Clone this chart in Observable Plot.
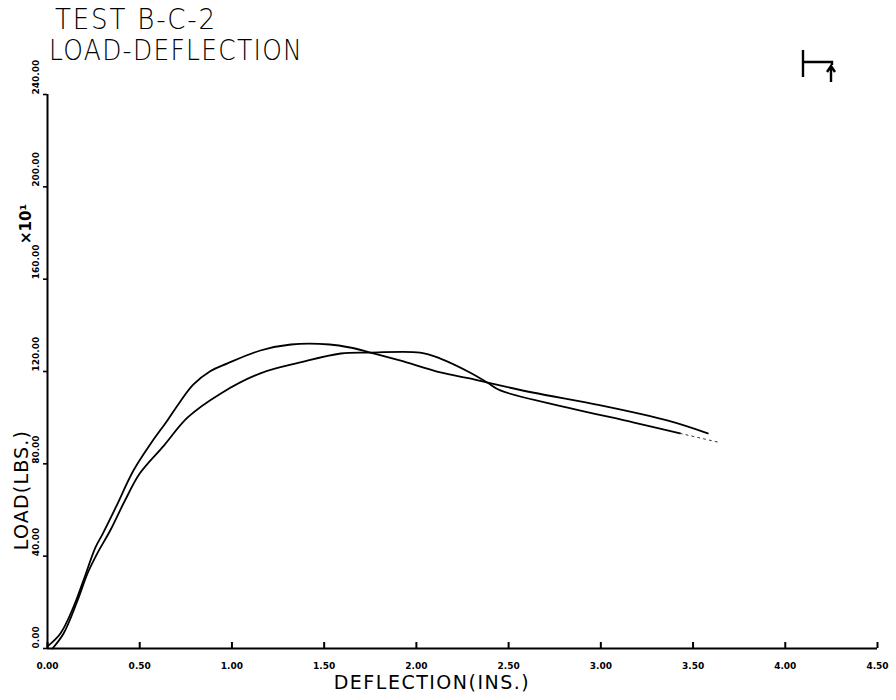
<!DOCTYPE html>
<html><head><meta charset="utf-8">
<script src="https://cdn.jsdelivr.net/npm/d3@7"></script>
<script src="https://cdn.jsdelivr.net/npm/@observablehq/plot@0.6"></script>
<style>
body{margin:0;background:#fff;}
#wrap{position:relative;width:896px;height:700px;overflow:hidden;}
.t{position:absolute;font-family:"DejaVu Sans",sans-serif;color:#000;white-space:nowrap;line-height:1;}
#chart{position:absolute;left:0;top:0;}
</style></head><body>
<div id="wrap">
  <div id="chart"></div>
  <div class="t" id="t1" style="left:55px;top:5px;font-size:29px;font-weight:200;transform:scaleX(0.9);transform-origin:left top;letter-spacing:2px;">TEST B-C-2</div>
  <div class="t" id="t2" style="left:49px;top:36px;font-size:29px;font-weight:200;transform:scaleX(0.86);transform-origin:left top;letter-spacing:1.5px;">LOAD-DEFLECTION</div>
  <div class="t" id="ylab" style="left:21px;top:490px;font-size:19px;font-weight:normal;transform:translate(-50%,-50%) rotate(-90deg);letter-spacing:1.2px;">LOAD(LBS.)</div>
  <div class="t" id="mult" style="left:26px;top:224px;font-size:15px;font-weight:bold;transform:translate(-50%,-50%) rotate(-90deg);">×10¹</div>
  <div class="t" id="xlab" style="left:432px;top:682px;font-size:19px;font-weight:normal;transform:translate(-50%,-50%);letter-spacing:1.5px;">DEFLECTION(INS.)</div>
  <svg style="position:absolute;left:0;top:0" width="896" height="700">
    <path d="M803,50 V77 M803,62 H832 V65 M831,82 V67 M827,72 L831,66 L835,72" fill="none" stroke="#000" stroke-width="2.4"/>
  </svg>
</div>
<script>
// Curve A (higher early peak ~1.4 in, lower at the end)
const deflA = [0.00, 0.07, 0.14, 0.195, 0.26, 0.30, 0.37, 0.466, 0.56, 0.65, 0.72, 0.79, 0.88, 0.976, 1.154, 1.32, 1.53, 1.64, 1.75, 1.91, 2.13, 2.29, 2.385, 2.63, 3.00, 3.36, 3.58];
const loadA = [0.9, 6.5, 17.8, 29.5, 43.8, 49.8, 61.1, 77.1, 88.8, 98.8, 107.0, 114.3, 120.0, 123.5, 129.1, 131.7, 131.7, 130.4, 128.2, 124.8, 119.6, 117.0, 115.2, 110.9, 105.3, 98.8, 93.2];
// Curve B (plateau near 2.0 in)
const deflB = [0.027, 0.087, 0.163, 0.217, 0.27, 0.34, 0.42, 0.50, 0.63, 0.76, 0.94, 1.154, 1.37, 1.59, 1.75, 2.02, 2.13, 2.29, 2.385, 2.455, 2.82, 3.18, 3.43];
const loadB = [0.0, 6.5, 20.8, 32.5, 41.2, 51.1, 64.1, 75.8, 87.8, 100.1, 110.5, 119.2, 123.9, 127.8, 128.2, 128.2, 125.6, 119.6, 115.2, 111.8, 104.4, 97.9, 93.2];
// faint dotted tail of curve B
const deflTail = [3.43, 3.64];
const loadTail = [93.2, 89.3];

const xTicks = [0, 0.5, 1.0, 1.5, 2.0, 2.5, 3.0, 3.5, 4.0, 4.5];
const xTickLabels = ["0.00", "0.50", "1.00", "1.50", "2.00", "2.50", "3.00", "3.50", "4.00", "4.50"];
const yTicks = [0, 40, 80, 120, 160, 200, 240];
const yTickLabels = ["0.00", "40.00", "80.00", "120.00", "160.00", "200.00", "240.00"];

const A = deflA.map((d, i) => ({d, l: loadA[i]}));
const B = deflB.map((d, i) => ({d, l: loadB[i]}));
const T = deflTail.map((d, i) => ({d, l: loadTail[i]}));

const W = 896, H = 700, mL = 47, mR = 19, mT = 94, mB = 52;
const chart = Plot.plot({
  width: W, height: H,
  marginLeft: mL, marginRight: mR, marginTop: mT, marginBottom: mB,
  x: {domain: [0, 4.5], axis: null},
  y: {domain: [0, 240], axis: null},
  style: {background: "white", fontFamily: "DejaVu Sans, sans-serif"},
  marks: [
    Plot.ruleX([0], {stroke: "#000", strokeWidth: 2}),
    Plot.ruleY([0], {stroke: "#000", strokeWidth: 2}),
    Plot.tickX(xTicks, {x: d => d, stroke: "#000", strokeWidth: 2, insetTop: H - mT - mB - 6}),
    Plot.axisY({ticks: yTicks, tickSize: 4, tickFormat: () => "", label: null, stroke: "#000", strokeWidth: 1.6}),
    Plot.text(xTicks, {x: d => d, frameAnchor: "bottom", dy: 20, text: (d, i) => xTickLabels[i], fontSize: 9, fontWeight: "bold", fill: "#000"}),
    Plot.text(yTicks, {y: d => d, frameAnchor: "left", dx: -11, rotate: -90, text: (d, i) => yTickLabels[i], fontSize: 9, fontWeight: "bold", fill: "#000"}),
    Plot.line(A, {x: "d", y: "l", curve: "catmull-rom", stroke: "#000", strokeWidth: 1.8}),
    Plot.line(B, {x: "d", y: "l", curve: "catmull-rom", stroke: "#000", strokeWidth: 1.8}),
    Plot.line(T, {x: "d", y: "l", stroke: "#333", strokeWidth: 1, strokeDasharray: "2,4"})
  ]
});
document.getElementById("chart").appendChild(chart);
</script>
</body></html>
